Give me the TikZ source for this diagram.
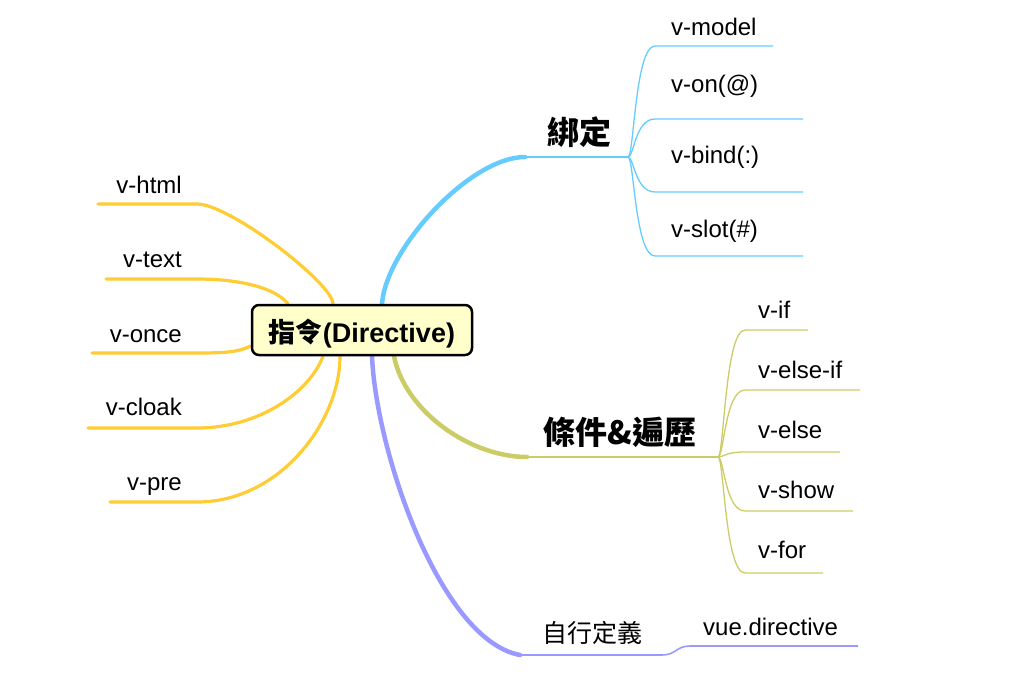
\documentclass[tikz,border=0pt]{standalone}
\usepackage{fontspec}
\setmainfont{Liberation Sans}
\newfontfamily\cjk{Noto Sans CJK TC}
\usepackage{tikz}
\usetikzlibrary{calc,backgrounds}
\definecolor{rootfill}{HTML}{FFFFCC}
\definecolor{bindcol}{HTML}{66CCFF}
\definecolor{loopcol}{HTML}{CCCC66}
\definecolor{owncol}{HTML}{9999FF}
\definecolor{leftcol}{HTML}{FFCC33}

\begin{document}
\begin{tikzpicture}[x=1pt,y=-1pt,
    root/.style={draw,line width=2.5pt,rounded corners=7pt,fill=rootfill,minimum width=220pt,minimum height=50pt,inner sep=0pt,text height=30pt,text depth=6pt,font=\bfseries\fontsize{27}{30}\selectfont},
    topic/.style={inner sep=0pt,font=\cjk\bfseries\fontsize{32}{36}\selectfont},
    subtopic/.style={inner sep=0pt,font=\cjk\fontsize{25}{28}\selectfont},
    leaf/.style={inner sep=0pt,font=\fontsize{24}{28}\selectfont},
    branch/.style={line width=4.5pt,line cap=round},
    stem/.style={line width=2.5pt},
    twig/.style={line width=1.3pt},
    side/.style={draw=leftcol,line width=3.2pt,line cap=round}
  ]
  \useasboundingbox (0,0) rectangle (1024,673);
  \node[root] (root) at (362,330) {{\cjk 指令}(Directive)};

  % binding
  \node[topic] (bind) at (579,132) {綁定};
  \coordinate (bind-l) at (525,157);
  \coordinate (bind-hub) at (628,157);
  \node[leaf,anchor=base west] (model) at (671,35) {v-model};
  \node[leaf,anchor=base west] (on) at (671,92) {v-on(@)};
  \node[leaf,anchor=base west] (bindattr) at (671,163) {v-bind(:)};
  \node[leaf,anchor=base west] (slot) at (671,237) {v-slot(\#)};
  \coordinate (model-l) at (655,46);  \coordinate (model-r) at (773,46);
  \coordinate (on-l) at (655,119);    \coordinate (on-r) at (803,119);
  \coordinate (battr-l) at (655,192); \coordinate (battr-r) at (803,192);
  \coordinate (slot-l) at (655,256);  \coordinate (slot-r) at (803,256);

  % conditions & loops
  \node[topic] (loop) at (620,432) {條件\&遍歷};
  \coordinate (loop-l) at (527,457);
  \coordinate (loop-hub) at (718,457);
  \node[leaf,anchor=base west] (vif) at (758,318) {v-if};
  \node[leaf,anchor=base west] (velseif) at (758,378) {v-else-if};
  \node[leaf,anchor=base west] (velse) at (758,438) {v-else};
  \node[leaf,anchor=base west] (vshow) at (758,498) {v-show};
  \node[leaf,anchor=base west] (vfor) at (758,558) {v-for};
  \coordinate (vif-l) at (745,330);     \coordinate (vif-r) at (808,330);
  \coordinate (velseif-l) at (745,390); \coordinate (velseif-r) at (860,390);
  \coordinate (velse-l) at (745,452);   \coordinate (velse-r) at (840,452);
  \coordinate (vshow-l) at (745,511);   \coordinate (vshow-r) at (853,511);
  \coordinate (vfor-l) at (745,573);    \coordinate (vfor-r) at (823,573);

  % custom
  \node[subtopic] (own) at (592,633) {自行定義};
  \coordinate (own-l) at (520,655);
  \coordinate (own-hub) at (662,655);
  \node[leaf,anchor=base west] (vue) at (703,635) {vue.directive};
  \coordinate (vue-l) at (690,646); \coordinate (vue-r) at (858,646);

  % left side
  \node[leaf,anchor=base east] (html) at (182,193) {v-html};
  \node[leaf,anchor=base east] (text) at (182,267) {v-text};
  \node[leaf,anchor=base east] (once) at (182,342) {v-once};
  \node[leaf,anchor=base east] (cloak) at (182,415) {v-cloak};
  \node[leaf,anchor=base east] (pre) at (182,490) {v-pre};
  \coordinate (html-l) at (98,204);   \coordinate (html-r) at (197,204);
  \coordinate (text-l) at (106,279);  \coordinate (text-r) at (197,279);
  \coordinate (once-l) at (92,353);   \coordinate (once-r) at (197,353);
  \coordinate (cloak-l) at (88,428);  \coordinate (cloak-r) at (197,428);
  \coordinate (pre-l) at (110,502);   \coordinate (pre-r) at (197,502);

  \begin{pgfonlayer}{background}
    \draw[bindcol,branch] ($(root.north)+(20,0)$) .. controls +(4,-55) and +(-55,0) .. (bind-l);
    \draw[bindcol,stem] (bind-l) -- (bind-hub);
    \draw[bindcol,twig] (bind-hub) .. controls +(6,0) and +(-20,0) .. (model-l) -- (model-r);
    \draw[bindcol,twig] (bind-hub) .. controls +(6,0) and +(-20,0) .. (on-l) -- (on-r);
    \draw[bindcol,twig] (bind-hub) .. controls +(6,0) and +(-20,0) .. (battr-l) -- (battr-r);
    \draw[bindcol,twig] (bind-hub) .. controls +(6,0) and +(-20,0) .. (slot-l) -- (slot-r);

    \draw[loopcol,branch] ($(root.south)+(32,0)$) .. controls +(11,55) and +(-57,0) .. (loop-l);
    \draw[loopcol,stem] (loop-l) -- (loop-hub);
    \draw[loopcol,twig] (loop-hub) .. controls +(6,0) and +(-20,0) .. (vif-l) -- (vif-r);
    \draw[loopcol,twig] (loop-hub) .. controls +(6,0) and +(-20,0) .. (velseif-l) -- (velseif-r);
    \draw[loopcol,twig] (loop-hub) .. controls +(6,0) and +(-20,0) .. (velse-l) -- (velse-r);
    \draw[loopcol,twig] (loop-hub) .. controls +(6,0) and +(-20,0) .. (vshow-l) -- (vshow-r);
    \draw[loopcol,twig] (loop-hub) .. controls +(6,0) and +(-20,0) .. (vfor-l) -- (vfor-r);

    \draw[owncol,branch] ($(root.south)+(10,0)$) .. controls +(4,95) and +(-80,-15) .. (own-l);
    \draw[owncol,stem] (own-l) -- (own-hub);
    \draw[owncol,line width=1.6pt] (own-hub) .. controls +(14,0) and +(-14,0) .. (vue-l) -- (vue-r);

    \draw[side] ($(root.north)+(-29,0)$) .. controls +(0,-20) and +(33,0) .. (html-r) -- (html-l);
    \draw[side] ($(root.north)+(-74,0)$) .. controls +(-13,-16) and +(43,0) .. (text-r) -- (text-l);
    \draw[side] ($(root.west)+(0,16)$) .. controls +(-12,6) and +(28,0) .. (once-r) -- (once-l);
    \draw[side] ($(root.south)+(-39,0)$) .. controls +(-13,35) and +(63,0) .. (cloak-r) -- (cloak-l);
    \draw[side] ($(root.south)+(-22,0)$) .. controls +(0,65) and +(83,0) .. (pre-r) -- (pre-l);
  \end{pgfonlayer}
\end{tikzpicture}
\end{document}
